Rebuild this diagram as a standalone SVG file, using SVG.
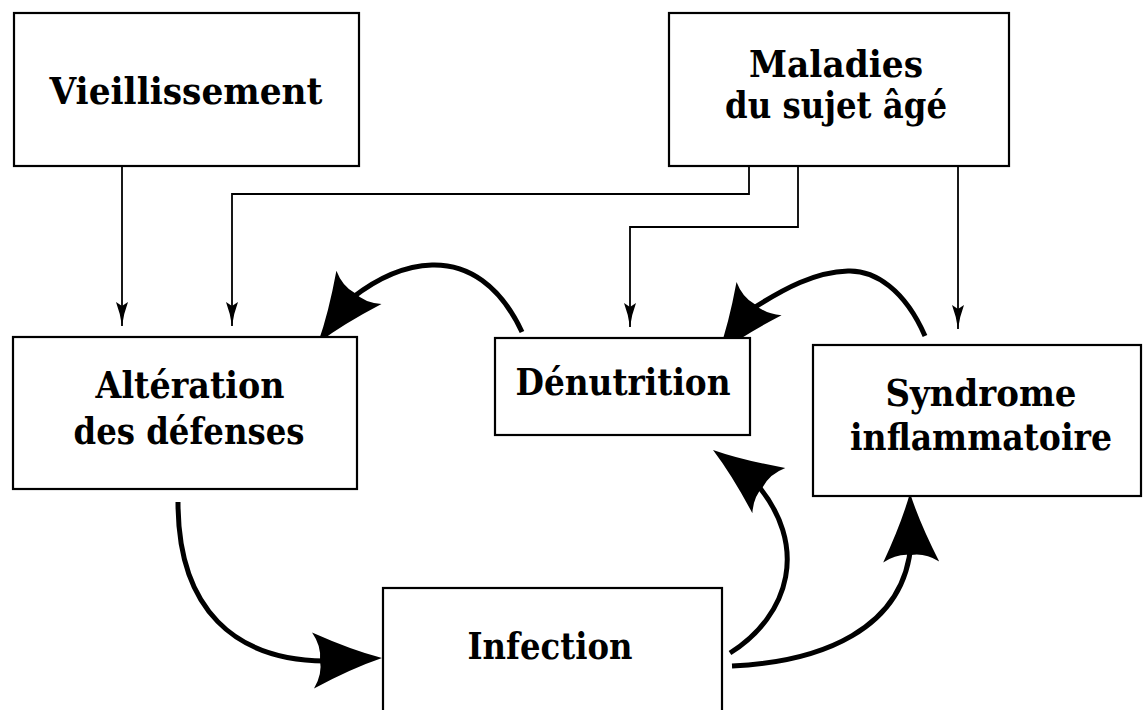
<svg xmlns="http://www.w3.org/2000/svg" xmlns:xlink="http://www.w3.org/1999/xlink" width="1143" height="710" viewBox="0 0 1143 710">
<style>
.box{fill:#fff;stroke:#000;stroke-width:2.2}
.lbl{font-family:"DejaVu Serif","Liberation Serif",serif;font-weight:bold;font-size:37px;fill:#000;text-anchor:middle}
.thin{fill:none;stroke:#000;stroke-width:1.8}
.thick{fill:none;stroke:#000;stroke-width:5}
.head{fill:#000;stroke:none}
</style>
<defs>
<marker id="ah" viewBox="0 0 26 14" markerWidth="26" markerHeight="14" refX="25" refY="7" orient="auto" markerUnits="userSpaceOnUse">
<path d="M25,7 Q13,5.5 1,1 L5,7 L1,13 Q13,8.5 25,7 Z" fill="#000"/>
</marker>
<path id="big" class="head" d="M0,0 Q-30,-9 -69,-28 Q-60,-14 -62,0 Q-60,14 -69,28 Q-30,9 0,0 Z"/>
</defs>
<rect width="1143" height="710" fill="#fff"/>

<g id="connectors">
<path class="thin" d="M122,166 V326" marker-end="url(#ah)"/>
<path class="thin" d="M749,166 V194 H232 V326" marker-end="url(#ah)"/>
<path class="thin" d="M798,166 V227 H630 V327" marker-end="url(#ah)"/>
<path class="thin" d="M958,166 V329" marker-end="url(#ah)"/>
<path class="thick" d="M522,332 C500,285 468,264 432,265 C402,266 375,280 352,298"/>
<use xlink:href="#big" transform="translate(318,343) rotate(126.4)"/>
<path class="thick" d="M925,336 C905,290 875,270 848,271 C815,272 785,288 752,309"/>
<use xlink:href="#big" transform="translate(718,354) rotate(126.5)"/>
<path class="thick" d="M178,502 C178,610 235,660 325,661"/>
<use xlink:href="#big" transform="translate(382,658) rotate(-2)"/>
<path class="thick" d="M730,653 C790,615 810,545 755,482"/>
<use xlink:href="#big" transform="translate(713,450) rotate(-144)"/>
<path class="thick" d="M732,666 C820,662 905,630 911,543"/>
<use xlink:href="#big" transform="translate(910,493) rotate(-91)"/>
</g>

<g id="vieillissement">
<rect class="box" x="14" y="13" width="345" height="153"/>
<text class="lbl" x="186" y="104" textLength="273" lengthAdjust="spacingAndGlyphs">Vieillissement</text>
</g>
<g id="maladies">
<rect class="box" x="669" y="13" width="340" height="153"/>
<text class="lbl" x="836" y="77" textLength="174" lengthAdjust="spacingAndGlyphs">Maladies</text>
<text class="lbl" x="836" y="118" textLength="222" lengthAdjust="spacingAndGlyphs">du sujet âgé</text>
</g>
<g id="alteration">
<rect class="box" x="13" y="337" width="344" height="152"/>
<text class="lbl" x="190" y="398" textLength="189" lengthAdjust="spacingAndGlyphs">Altération</text>
<text class="lbl" x="189" y="444" textLength="231" lengthAdjust="spacingAndGlyphs">des défenses</text>
</g>
<g id="denutrition">
<rect class="box" x="495" y="338" width="255" height="97"/>
<text class="lbl" x="623" y="395" textLength="215" lengthAdjust="spacingAndGlyphs">Dénutrition</text>
</g>
<g id="syndrome">
<rect class="box" x="813" y="345" width="328" height="151"/>
<text class="lbl" x="981" y="406" textLength="191" lengthAdjust="spacingAndGlyphs">Syndrome</text>
<text class="lbl" x="981" y="450" textLength="262" lengthAdjust="spacingAndGlyphs">inflammatoire</text>
</g>
<g id="infection">
<rect class="box" x="383" y="588" width="339" height="130"/>
<text class="lbl" x="550" y="659" textLength="165" lengthAdjust="spacingAndGlyphs">Infection</text>
</g>
</svg>
